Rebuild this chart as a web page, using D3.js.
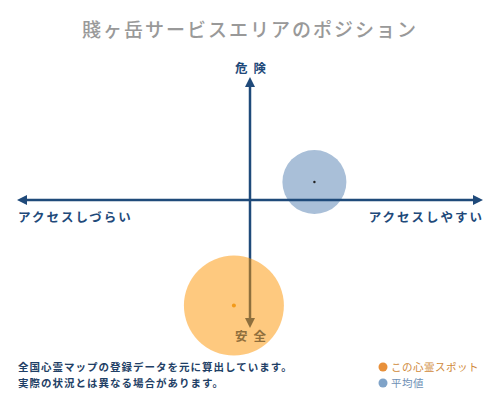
<!DOCTYPE html>
<html><head><meta charset="utf-8">
<script src="https://cdn.jsdelivr.net/npm/d3@7"></script>
<style>body{margin:0;background:#fff}svg{display:block}</style>
</head><body>
<script>
const title = "賤ヶ岳サービスエリアのポジション";
const axisLabels = {top:"危険", bottom:"安全", left:"アクセスしづらい", right:"アクセスしやすい"};
const seriesNames = ["この心霊スポット","平均値"];
const seriesX = [-0.07, 0.28];
const seriesY = [-0.88, 0.15];
const notes = ["全国心霊マップの登録データを元に算出しています。","実際の状況とは異なる場合があります。"];

const W=500,H=400;
const navy="#1f4a7a";
const font="'Noto Sans CJK JP','Noto Sans',sans-serif";
const svg=d3.select("body").append("svg").attr("width",W).attr("height",H).style("font-family",font);

const x=d3.scaleLinear().domain([-1,1]).range([20,480]);
const y=d3.scaleLinear().domain([-1,1]).range([320,80]);

svg.append("text").attr("x",250).attr("y",37).attr("text-anchor","middle")
  .attr("font-size",19).attr("fill","#999").attr("font-weight",500).attr("letter-spacing",2).text(title);

const defs=svg.append("defs");
defs.append("marker").attr("id","ah").attr("viewBox","0 0 10 10").attr("refX",5).attr("refY",5)
  .attr("markerWidth",4).attr("markerHeight",4).attr("orient","auto-start-reverse")
  .append("path").attr("d","M0,0L10,5L0,10z").attr("fill",navy);

// average circle (behind axes)
svg.append("circle").attr("cx",x(seriesX[1])).attr("cy",y(seriesY[1])).attr("r",32)
  .attr("fill","#a9bfd8");
svg.append("circle").attr("cx",x(seriesX[1])).attr("cy",y(seriesY[1])).attr("r",1.2).attr("fill","#222");

// axes
svg.append("line").attr("x1",x(-1)+2).attr("x2",x(1)-2).attr("y1",y(0)).attr("y2",y(0))
  .attr("stroke",navy).attr("stroke-width",2.5).attr("marker-start","url(#ah)").attr("marker-end","url(#ah)");
svg.append("line").attr("x1",x(0)).attr("x2",x(0)).attr("y1",y(1)+2).attr("y2",y(-1)+3)
  .attr("stroke",navy).attr("stroke-width",2.5).attr("marker-start","url(#ah)").attr("marker-end","url(#ah)");

const lab=(t,xx,yy,anchor,ls)=>svg.append("text").attr("x",xx).attr("y",yy).attr("text-anchor",anchor)
  .attr("font-size",12.5).attr("font-weight","bold").attr("fill",navy).attr("letter-spacing",ls).text(t);
lab(axisLabels.top,253.5,73,"middle",6);
lab(axisLabels.bottom,253.5,341,"middle",6);
lab(axisLabels.left,18,222,"start",2);
lab(axisLabels.right,484,222,"end",2);

// this spot circle (on top)
svg.append("circle").attr("cx",x(seriesX[0])).attr("cy",y(seriesY[0])).attr("r",50)
  .attr("fill","#fd9400").attr("opacity",0.5);
svg.append("circle").attr("cx",x(seriesX[0])).attr("cy",y(seriesY[0])).attr("r",2).attr("fill","#f29a1a");

notes.forEach((n,i)=>svg.append("text").attr("x",18).attr("y",371+i*16).attr("font-size",10.5)
  .attr("font-weight","bold").attr("fill","#1f3f66").attr("letter-spacing",1).text(n));

const legCol=["#e8903a","#7fa3c8"], legText=["#d08a3a","#6d8fb5"];
seriesNames.forEach((n,i)=>{
  svg.append("circle").attr("cx",383).attr("cy",367+i*16).attr("r",4.5).attr("fill",legCol[i]);
  svg.append("text").attr("x",391).attr("y",371+i*16).attr("font-size",10.5).attr("fill",legText[i])
    .attr("letter-spacing",0.5).text(n);
});
</script>
</body></html>
